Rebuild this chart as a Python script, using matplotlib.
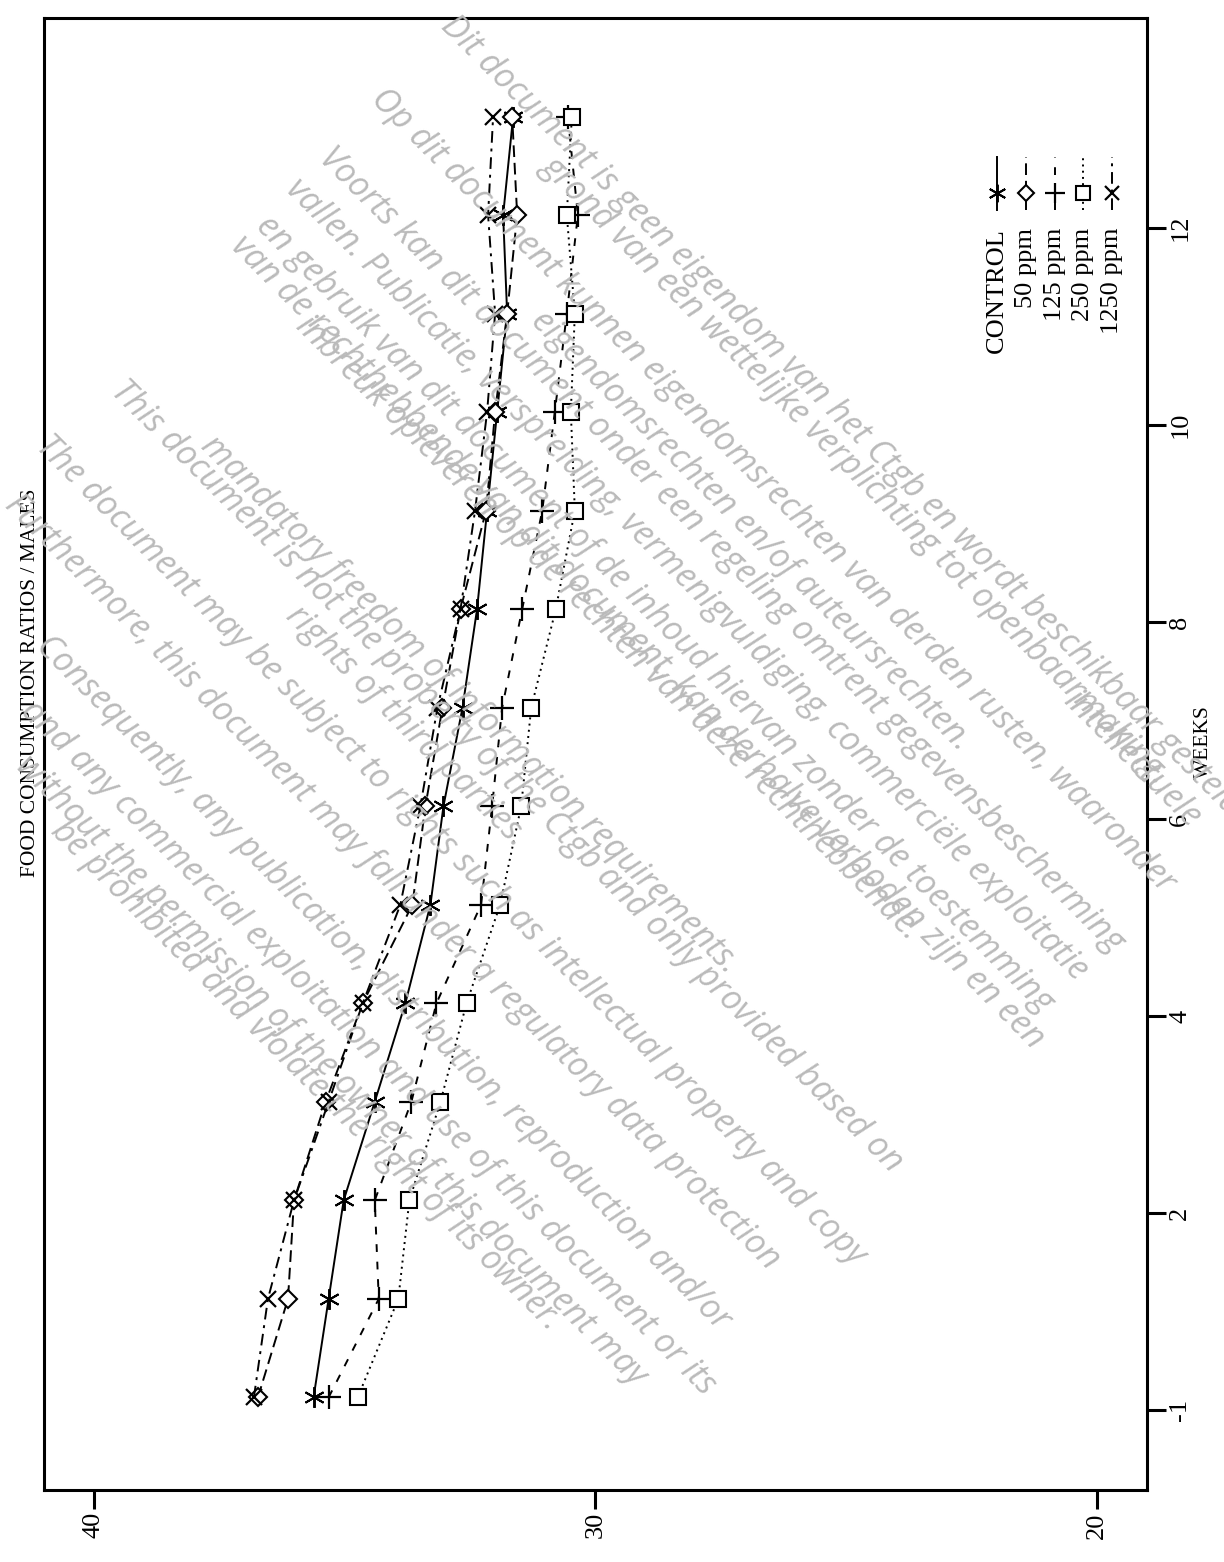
import numpy as np
import matplotlib.pyplot as plt
from matplotlib.lines import Line2D

W, H = 1224, 1562

# study weeks (the pre-test week -1 sits at position 0)
weeks = [-1, 1, 2, 3, 4, 5, 6, 7, 8, 9, 10, 11, 12, 13]
control = [35.62, 35.32, 35.02, 34.40, 33.79, 33.29, 33.03, 32.65, 32.36, 32.16, 31.96, 31.76, 31.84, 31.64]
ppm50 = [36.73, 36.13, 36.01, 35.38, 34.64, 33.65, 33.39, 33.05, 32.69, 32.18, 32.00, 31.76, 31.56, 31.66]
ppm125 = [35.32, 34.32, 34.40, 33.67, 33.17, 32.28, 32.06, 31.86, 31.46, 31.06, 30.81, 30.57, 30.35, 30.55]
ppm250 = [34.74, 33.93, 33.71, 33.09, 32.57, 31.90, 31.48, 31.28, 30.79, 30.41, 30.49, 30.41, 30.57, 30.47]
ppm1250 = [36.81, 36.53, 36.01, 35.32, 34.64, 33.89, 33.49, 33.15, 32.69, 32.40, 32.16, 32.00, 32.14, 32.04]

week_ticks = [-1, 2, 4, 6, 8, 10, 12]
ratio_ticks = [40, 30, 20]

labels = ['CONTROL', '50 ppm', '125 ppm', '250 ppm', '1250 ppm']

watermark = [
    ((440, 5), 'Dit document is geen eigendom van het Ctgb en wordt beschikbaar gesteld op'),
    ((540, 145), 'grond van een wettelijke verplichting tot openbaarmaking.'),
    ((370, 78), 'Op dit document kunnen eigendomsrechten van derden rusten, waaronder'),
    ((1062, 680), 'intellectuele'),
    ((530, 300), 'eigendomsrechten en/of auteursrechten.'),
    ((318, 137), 'Voorts kan dit document onder een regeling omtrent gegevensbescherming'),
    ((285, 168), 'vallen. Publicatie, verspreiding, vermenigvuldiging, commerciële exploitatie'),
    ((255, 205), 'en gebruik van dit document of de inhoud hiervan zonder de toestemming'),
    ((230, 225), 'van de rechthebbende van dit document, kan derhalve verboden zijn en een'),
    ((295, 305), 'inbreuk opleveren op de rechten van deze rechthebbende.'),
    ((110, 370), 'This document is not the property of the Ctgb and only provided based on'),
    ((200, 425), 'mandatory freedom of information requirements.'),
    ((35, 425), 'The document may be subject to rights such as intellectual property and copy'),
    ((285, 595), 'rights of third parties.'),
    ((4, 484), 'Furthermore, this document may fall under a regulatory data protection'),
    ((35, 625), 'Consequently, any publication, distribution, reproduction and/or'),
    ((20, 690), 'and any commercial exploitation and use of this document or its'),
    ((15, 745), 'without the permission of the owner of this document may'),
    ((50, 810), 'be prohibited and violate the right of its owner.'),
]


def pos(w):
    return 0 if w == -1 else w


def px(x, y):
    return x / W, 1 - y / H


plt.rcParams['font.family'] = ['Liberation Serif', 'DejaVu Serif']

fig = plt.figure(figsize=(W / 100, H / 100), dpi=100)
ax = fig.add_axes([43.8 / W, 1 - 1490 / H, (1147 - 43.8) / W, (1490 - 18) / H])

styles = [
    dict(ls='-', marker=(6, 2, 0), ms=15, mew=1.4),
    dict(ls=(0, (6, 3)), marker='D', ms=9, mfc='white', mew=1.5),
    dict(ls=(0, (4, 5)), marker='+', ms=17, mew=1.6),
    dict(ls=(0, (1, 2.2)), marker='s', ms=12, mfc='white', mew=1.5),
    dict(ls=(0, (6, 3, 1.5, 3)), marker='x', ms=12, mew=1.6),
]
series = [control, ppm50, ppm125, ppm250, ppm1250]
ypos = [pos(w) for w in weeks]
for vals, st in zip(series, styles):
    ax.plot(vals, ypos, color='black', lw=1.4, **st)

ax.set_xlim(41, 19)
ax.set_ylim(-0.94, 14.0)
for s in ax.spines.values():
    s.set_linewidth(2.2)

ax.set_xticks(ratio_ticks)
ax.set_xticklabels([str(t) for t in ratio_ticks], rotation=90, fontsize=19)
tick_shift = -0.13
ax.set_yticks([pos(w) + tick_shift for w in week_ticks])
ax.set_yticklabels([str(w) for w in week_ticks], rotation=90, fontsize=19, va='center')
ax.yaxis.tick_right()
ax.tick_params(axis='both', direction='out', length=14, width=2.2, pad=2)
ax.tick_params(axis='y', left=False)

# rotated title and axis label
fig.text(*px(31, 683), 'FOOD CONSUMPTION RATIOS / MALES', rotation=90,
         ha='center', va='center', fontsize=15.5)
fig.text(*px(1203, 742), 'WEEKS', rotation=90, ha='center', va='center', fontsize=15.5)

# legend, drawn upright in the rotated frame
cols = [997, 1026, 1055, 1083, 1112]
for cx, lab, st in zip(cols, labels, styles):
    fig.text(*px(cx, 228), lab, rotation=90, rotation_mode='anchor',
             ha='right', va='center', fontsize=19)
    x0, y0 = px(cx, 210)
    x1, y1 = px(cx, 157)
    fig.add_artist(Line2D([x0, x1], [y0, y1], color='black', lw=1.4, ls=st['ls'],
                          transform=fig.transFigure))
    mk = {k: v for k, v in st.items() if k != 'ls'}
    mk['ms'] = mk['ms'] * 0.85
    mx, my = px(cx, 193)
    fig.add_artist(Line2D([mx], [my], color='black', ls='none', transform=fig.transFigure, **mk))

# disclaimer watermark stamped over the scan
for (sx, sy), txt in watermark:
    fig.text(*px(sx, sy + 22), txt, rotation=-45, rotation_mode='anchor',
             ha='left', va='baseline', fontsize=24.5, color='#bababa',
             family=['Open Sans', 'DejaVu Sans'], style='italic', zorder=10)

fig.savefig('out.png', dpi=100)
